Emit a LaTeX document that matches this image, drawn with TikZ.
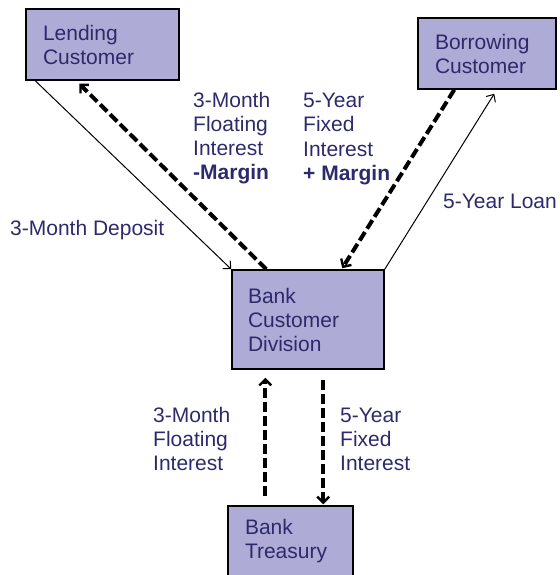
\documentclass[tikz,border=0pt]{standalone}
\usepackage{fontspec}
\setmainfont{Liberation Sans}
\usetikzlibrary{arrows.meta,calc}

\begin{document}
\begin{tikzpicture}[
  x=1pt, y=-1pt,
  font=\fontsize{21}{24}\selectfont,
  box/.style={draw=black, line width=1.5pt, fill=boxfill, text=tdark,
    align=left, inner xsep=17pt, inner ysep=0pt, minimum height=71pt},
  lbl/.style={text=tdark, align=left, inner sep=0pt, anchor=west},
  flow/.style={-{Straight Barb[length=6pt,width=11pt]}, line width=1pt},
  rate/.style={-{Straight Barb[length=6pt,width=12pt,line width=2.4pt]},
    line width=4pt, dash pattern=on 10pt off 4pt}
]
\definecolor{boxfill}{HTML}{AEABD6}
\definecolor{tdark}{HTML}{2D2A6C}

\clip (0,0) rectangle (559,575);
\useasboundingbox (0,0) rectangle (559,575);

\node[box, text width=119pt] (lend) at (102.5,44.5) {Lending\\Customer};
\node[box, text width=104pt] (borr) at (487,53.5) {Borrowing\\Customer};
\node[box, text width=120pt, inner xsep=16pt, minimum height=99pt] (bcd)
  at (308,319.5) {Bank\\Customer\\Division};
\node[box, text width=91pt] (treas) at (290.5,541.5) {Bank\\Treasury};

% customer side
\draw[flow] ($(lend.south west)+(10,0)$) -- (bcd.north west);
\draw[rate] ($(bcd.north west)+(35,0)$) -- ($(lend.south west)+(54,3)$);
\draw[rate] ($(borr.south west)+(37,0)$) -- ($(bcd.north west)+(111,-1)$);
\draw[flow] (bcd.north east) -- ($(borr.south west)+(77,4)$);

% treasury side
\draw[rate] ($(treas.north west)+(38,-9)$) -- ($(bcd.south west)+(34,8)$);
\draw[rate] ($(bcd.south west)+(92,10)$) -- ($(treas.north west)+(96,-1)$);

\node[lbl] (dep) at (10,230) {3-Month Deposit};
\node[lbl] (loan) at (443,201) {5-Year Loan};
\node[lbl] (flt) at (193,138) {3-Month\\Floating\\Interest\\\textbf{-Margin}};
\node[lbl] (fix) at (303,139) {5-Year\\Fixed\\Interest\\\textbf{+ Margin}};
\node[lbl] (tflt) at (153,439) {3-Month\\Floating\\Interest};
\node[lbl] (tfix) at (340,439) {5-Year\\Fixed\\Interest};
\end{tikzpicture}
\end{document}
